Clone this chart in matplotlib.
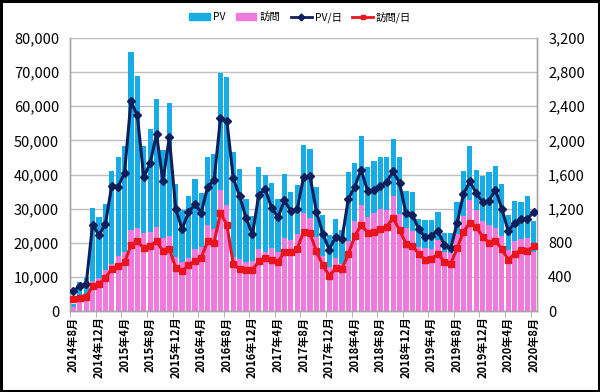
import numpy as np
import matplotlib
matplotlib.use("Agg")
import matplotlib.pyplot as plt
from matplotlib.ticker import FuncFormatter, FixedLocator
from matplotlib.patches import Rectangle
from matplotlib.lines import Line2D

plt.rcParams['font.family'] = ['Noto Sans CJK JP', 'DejaVu Sans']

# months 2014-08 .. 2020-08
months = [f"{2014 + (7 + i) // 12}年{(7 + i) % 12 + 1}月" for i in range(73)]

pv = [2000, 8400, 9600, 30300, 27500, 31500, 41000, 45000, 48500, 76000,
      68800, 48400, 53400, 62200, 47100, 61000, 37300, 29600, 33600, 38700,
      34600, 45100, 46000, 69800, 68700, 46600, 41500, 32800, 27700, 42200,
      40000, 37400, 32900, 40100, 35000, 36800, 48600, 47400, 36200, 28000,
      22200, 26900, 23600, 40600, 43500, 51300, 42100, 43900, 45200, 45100,
      50500, 45100, 35200, 34800, 26900, 26600, 26600, 29100, 23000, 22800,
      31900, 41000, 48400, 41300, 39500, 40800, 42500, 37200, 28200, 32200,
      32000, 33600, 26300]
visits = [1300, 4600, 5000, 8900, 9800, 12000, 13900, 16200, 17200, 23800,
          24200, 22800, 23300, 24500, 21500, 21900, 15700, 14400, 15600, 18200,
          18700, 25200, 24100, 35600, 31000, 15800, 15100, 14500, 14800, 18100,
          17200, 18400, 17300, 21500, 20700, 22600, 28800, 27300, 21600, 16000,
          12800, 15400, 13700, 20600, 26300, 31000, 27600, 28600, 29800, 29600,
          33600, 28400, 24400, 23500, 18800, 18400, 18200, 20800, 17400, 17000,
          22500, 27900, 32400, 29600, 26500, 25300, 24200, 22000, 17900, 20600,
          21100, 21500, 17300]
pv_day = [234, 292, 316, 1014, 889, 1018, 1470, 1458, 1622, 2456,
          2292, 1571, 1731, 2074, 1520, 2035, 1201, 959, 1158, 1251,
          1154, 1458, 1532, 2257, 2226, 1559, 1345, 1092, 897, 1365,
          1427, 1209, 1099, 1298, 1170, 1193, 1571, 1583, 1166, 908,
          721, 869, 846, 1314, 1454, 1657, 1407, 1419, 1460, 1513,
          1637, 1501, 1146, 1131, 959, 862, 885, 943, 772, 733,
          1030, 1368, 1520, 1380, 1275, 1295, 1423, 1201, 936, 1033,
          1076, 1084, 1158]
visits_day = [136, 156, 160, 296, 316, 386, 495, 522, 569, 772,
              815, 735, 760, 823, 698, 729, 507, 464, 538, 589,
              624, 819, 803, 1150, 1010, 550, 487, 483, 480, 585,
              616, 596, 577, 694, 690, 729, 932, 912, 698, 534,
              413, 499, 491, 667, 877, 1010, 920, 924, 963, 990,
              1092, 947, 791, 760, 674, 597, 610, 670, 580, 551,
              735, 930, 1035, 990, 865, 803, 823, 725, 600, 671,
              713, 706, 764]

c_pv = '#17ACE6'
c_vis = '#F07ADC'
c_pvd = '#0F1F5C'
c_visd = '#E8141E'

fig = plt.figure(figsize=(6.0, 3.92), dpi=100)
ax = fig.add_axes([0.117, 0.2066, 0.778, 0.6964])
x = np.arange(len(months))

ax.bar(x, pv, width=0.82, color=c_pv, zorder=2, label='PV')
ax.bar(x, visits, width=0.82, color=c_vis, zorder=3, label='訪問')
ax.set_ylim(0, 80000)
ax.set_xlim(-0.5, len(months) - 0.5)
ax.set_yticks(np.arange(0, 80001, 10000))
ax.yaxis.set_major_formatter(FuncFormatter(lambda v, p: f"{int(v):,}"))
ax.grid(axis='y', color='#BFBFBF', linewidth=1.0, zorder=0)
ax.set_axisbelow(True)

ax2 = ax.twinx()
ax2.plot(x, pv_day, color=c_pvd, linewidth=2.2, marker='D', markersize=4.5, zorder=5)
ax2.plot(x, visits_day, color=c_visd, linewidth=2.2, marker='s', markersize=4.0, zorder=5)
ax2.set_ylim(0, 3200)
ax2.set_yticks(np.arange(0, 3201, 400))
ax2.yaxis.set_major_formatter(FuncFormatter(lambda v, p: f"{int(v):,}"))

label_idx = list(range(0, len(months), 4))
ax.set_xticks(label_idx)
ax.set_xticklabels([months[i] for i in label_idx], rotation=90, fontsize=8, fontweight='bold')
ax.tick_params(axis='x', length=0, pad=4)
ax.xaxis.set_minor_locator(FixedLocator([i - 0.5 for i in label_idx]))
ax.tick_params(axis='x', which='minor', length=4, color='#A6A6A6')
ax.tick_params(axis='y', length=0, labelsize=10.5, pad=8)
ax2.tick_params(axis='y', length=0, labelsize=10.5, pad=8)

for a in (ax, ax2):
    for s in ('top',):
        a.spines[s].set_visible(False)
    for s in ('left', 'right', 'bottom'):
        a.spines[s].set_color('#A6A6A6')
        a.spines[s].set_linewidth(1.0)

handles = [Rectangle((0, 0), 1, 1, color=c_pv),
           Rectangle((0, 0), 1, 1, color=c_vis),
           Line2D([], [], color=c_pvd, linewidth=2, marker='D', markersize=3.5),
           Line2D([], [], color=c_visd, linewidth=2, marker='s', markersize=3.5)]
fig.legend(handles, ['PV', '訪問', 'PV/日', '訪問/日'], loc='upper center',
           bbox_to_anchor=(0.5, 0.995), ncol=4, frameon=False, fontsize=7.5,
           handlelength=2.0, handleheight=0.6, columnspacing=1.0, handletextpad=0.3)

fig.add_artist(Rectangle((0.002, 0.003), 0.996, 0.994, transform=fig.transFigure,
                         fill=False, edgecolor='black', linewidth=2.2))

fig.savefig('out.png', dpi=100)
